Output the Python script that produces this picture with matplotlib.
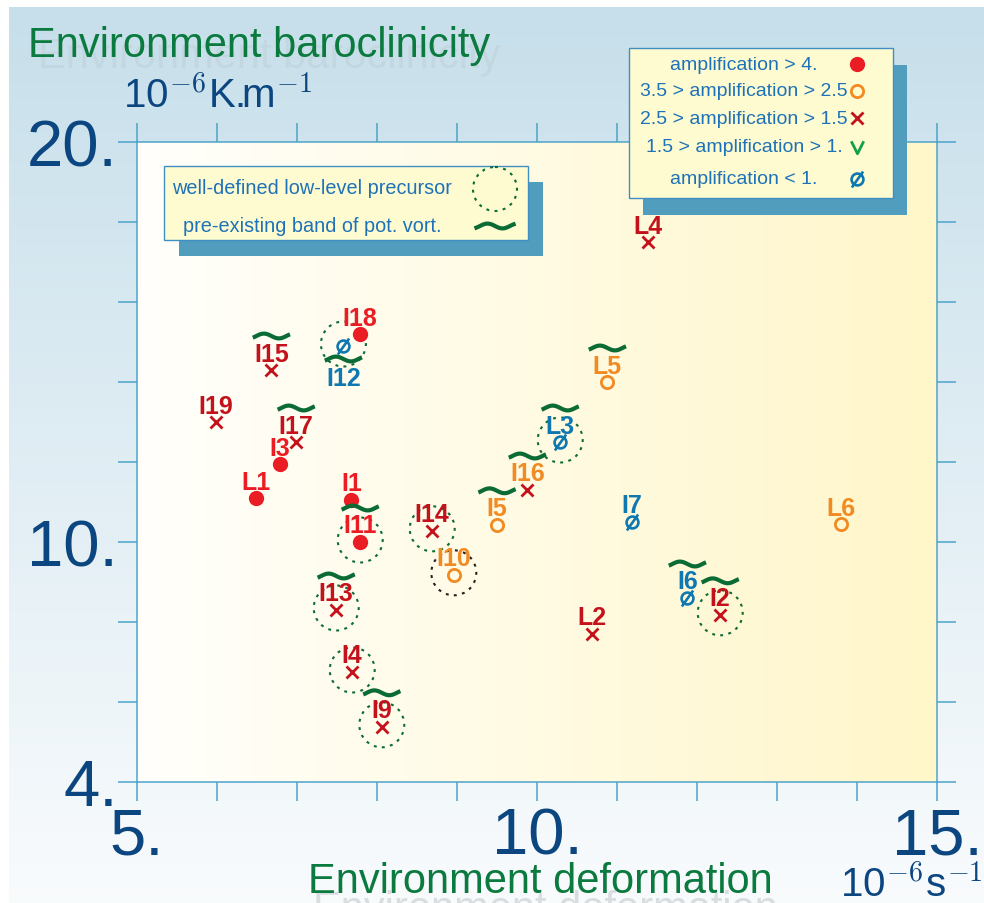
import numpy as np
import matplotlib
matplotlib.use('Agg')
import matplotlib.pyplot as plt
from matplotlib import transforms as mtrans
from matplotlib.path import Path
from matplotlib.patches import Circle, Rectangle

plt.rcParams['font.family'] = ['Liberation Sans', 'DejaVu Sans']
plt.rcParams['mathtext.fontset'] = 'cm'

# ---------------- data ----------------
names = ['L4', 'I18', 'I12', 'I15', 'I19', 'I17', 'I3', 'L1', 'I1', 'I11', 'I14', 'I10',
         'I5', 'I16', 'L3', 'L5', 'I7', 'L6', 'I6', 'I2', 'L2', 'I13', 'I4', 'I9']
deformation = [11.39, 7.79, 7.58, 6.68, 5.99, 6.99, 6.79, 6.49, 7.68, 7.79, 8.69, 8.96,
               9.50, 9.88, 10.29, 10.88, 11.19, 13.80, 11.88, 12.29, 10.69, 7.49, 7.69, 8.06]
baroclinicity = [17.5, 15.2, 14.9, 14.3, 13.0, 12.5, 11.95, 11.1, 11.05, 10.0, 10.28, 9.18,
                 10.43, 11.3, 12.5, 14.0, 10.5, 10.45, 8.6, 8.18, 7.7, 8.3, 6.75, 5.38]
# 0: >4, 1: 3.5-2.5, 2: 2.5-1.5, 3: 1.5-1, 4: <1
amp_class = [2, 0, 4, 2, 2, 2, 0, 0, 0, 0, 2, 1,
             1, 2, 4, 1, 4, 1, 4, 2, 2, 2, 2, 2]
label_class = [2, 0, 4, 2, 2, 2, 0, 0, 0, 0, 2, 1,
               1, 1, 4, 1, 4, 1, 4, 2, 2, 2, 2, 2]
# 0: none, 1: well-defined low-level precursor (green), 2: (black)
precursor = [0, 0, 1, 0, 0, 0, 0, 0, 0, 1, 1, 2,
             0, 0, 1, 0, 0, 0, 0, 1, 0, 1, 1, 1]
pv_band = [0, 0, 1, 1, 0, 1, 0, 0, 0, 1, 0, 0,
           1, 1, 1, 1, 0, 0, 1, 1, 0, 1, 0, 1]
label_below = [0, 0, 1, 0, 0, 0, 0, 0, 0, 0, 0, 0,
               0, 0, 0, 0, 0, 0, 0, 0, 0, 0, 0, 0]

class_labels = ['amplification > 4.', '3.5 > amplification > 2.5',
                '2.5 > amplification > 1.5', '1.5 > amplification > 1.',
                'amplification < 1.']
feature_labels = ['well-defined low-level precursor', 'pre-existing band of pot. vort.']

x_ticks = [5, 10, 15]
x_ticklabels = ['5.', '10.', '15.']
y_ticks = [4, 10, 20]
y_ticklabels = ['4.', '10.', '20.']

# ---------------- style ----------------
W, H = 984, 904
PX = 72.0 / 100.0
RED = '#ea1c24'
DRED = '#c4121c'
ORANGE = '#f28a22'
BLUE = '#0f78b0'
GREENV = '#12a04a'
TICKC = '#0b4680'
TITLEG = '#0b7a3e'
LEGTXT = '#1d72b8'
SHADOW = '#519dbd'
LEGFC = '#fffbd0'
LEGEC = '#3f8fc4'
TILDE = '#0b6b35'
SPINE = '#4aa3c8'

slash_o = Path.make_compound_path(Path.unit_circle(),
                                  Path([(-0.95, -1.35), (0.95, 1.35)]))
vee = Path([(-1, 1), (0, -1), (1, 1)], [Path.MOVETO, Path.LINETO, Path.LINETO])
styles = [
    dict(marker='o', ms=11, mfc=RED, mec=RED, mew=0),
    dict(marker='o', ms=8.8, mfc='none', mec=ORANGE, mew=2.0),
    dict(marker='x', ms=8.5, mfc='none', mec=DRED, mew=2.0),
    dict(marker=vee, ms=9, mfc='none', mec=GREENV, mew=2.0),
    dict(marker=slash_o, ms=11.5, mfc='none', mec=BLUE, mew=1.9),
]
label_colors = [RED, ORANGE, DRED, GREENV, BLUE]

t = np.linspace(-0.12, 1.12, 60)
tilde_x = (t - 0.5) * 30
tilde_y = 2.4 * np.sin(2 * np.pi * t)
TILDE_LW = 3.0

fig = plt.figure(figsize=(W / 100, H / 100), dpi=100)
fig.patch.set_facecolor('white')

# figure background gradient
bg = fig.add_axes([9 / W, 0, 1 - 9 / W, 1 - 8 / H], zorder=0)
g = np.linspace(0, 1, 256)[:, None, None]
top = np.array([0.78, 0.875, 0.92])
bot = np.array([0.975, 0.985, 0.992])
bg.imshow(top * (1 - g) + bot * g, aspect='auto', extent=[0, 1, 0, 1], origin='upper')
bg.axis('off')

# main axes
ax = fig.add_axes([137 / W, 1 - 783 / H, 800 / W, 640 / H], zorder=1)
hg = np.linspace(0, 1, 256)[None, :, None]
left = np.array([1.0, 1.0, 0.985])
right = np.array([1.0, 0.965, 0.79])
ax.imshow(left * (1 - hg) + right * hg, aspect='auto', extent=[5, 15, 4, 20], zorder=0)
ax.set_xlim(5, 15)
ax.set_ylim(4, 20)
ax.set_autoscale_on(False)

ax.set_xticks(x_ticks)
ax.set_xticklabels(x_ticklabels)
ax.set_xticks(np.arange(5, 16, 1), minor=True)
ax.set_yticks(y_ticks)
ax.set_yticklabels(y_ticklabels)
ax.set_yticks(np.arange(4, 21, 2), minor=True)
ax.tick_params(which='both', direction='out', length=19 * PX, width=1.5 * PX,
               color=SPINE, top=True, right=True)
ax.tick_params(which='major', labelsize=47, labelcolor=TICKC)
ax.tick_params(axis='y', which='major', pad=0)
ax.tick_params(axis='x', which='major', pad=4)
for s in ax.spines.values():
    s.set_color(SPINE)
    s.set_linewidth(1.5 * PX)


def anchor(x, y, dx=0.0, dy=0.0):
    return mtrans.Affine2D().translate(dx, dy) + mtrans.ScaledTranslation(x, y, ax.transData)


# markers
for c in range(5):
    xs = [deformation[i] for i in range(len(names)) if amp_class[i] == c]
    ys = [baroclinicity[i] for i in range(len(names)) if amp_class[i] == c]
    if xs:
        ax.plot(xs, ys, ls='none', zorder=5, clip_on=False, **styles[c])

for i, n in enumerate(names):
    x, y = deformation[i], baroclinicity[i]
    below = label_below[i] == 1
    ax.annotate(n, (x, y), xytext=(0, (-39 if below else 9.5) * PX),
                textcoords='offset points', ha='center', va='baseline',
                fontsize=18, fontweight='bold', color=label_colors[label_class[i]],
                zorder=6)
    if pv_band[i]:
        ax.plot(tilde_x, tilde_y, transform=anchor(x, y, 0, -13 if below else 34),
                color=TILDE, lw=TILDE_LW, solid_capstyle='butt',
                zorder=7, clip_on=False)
    if precursor[i]:
        col = TILDE if precursor[i] == 1 else '#222222'
        circ = Circle((0, 2), 22.5, transform=anchor(x, y), fill=False, ec=col,
                      lw=1.5, ls=(0, (1.4, 2.6)), zorder=4, clip_on=False)
        ax.add_patch(circ)

# overlay for legends and titles
ov = fig.add_axes([0, 0, 1, 1], zorder=3)
ov.set_xlim(0, W)
ov.set_ylim(H, 0)
ov.axis('off')
ov.patch.set_visible(False)

# legend 1
ov.add_patch(Rectangle((643, 66), 264, 150, fc=SHADOW, ec='none'))
ov.add_patch(Rectangle((629, 49), 264, 150, fc=LEGFC, ec=LEGEC, lw=1.0))
rows = [65, 92, 119, 148, 180]
for c in range(5):
    ov.text(744, rows[c], class_labels[c], ha='center', va='center',
            fontsize=14, color=LEGTXT)
    ov.plot([857], [rows[c]], ls='none', **styles[c])

# legend 2
ov.add_patch(Rectangle((179, 183), 364, 74, fc=SHADOW, ec='none'))
ov.add_patch(Rectangle((164, 167), 364, 74, fc=LEGFC, ec=LEGEC, lw=1.0))
ov.text(312, 189, feature_labels[0], ha='center', va='center', fontsize=14.3, color=LEGTXT)
ov.text(312, 227, feature_labels[1], ha='center', va='center', fontsize=14.3, color=LEGTXT)
ov.add_patch(Circle((495, 190), 22, fill=False, ec=TILDE, lw=1.5, ls=(0, (1.4, 2.6))))
ov.plot(495 + tilde_x, 227 - tilde_y, color=TILDE, lw=TILDE_LW)

# titles
ov.text(38, 68, 'Environment baroclinicity', fontsize=30, color='#b8c8d0',
        alpha=0.35, va='baseline')
ov.text(28, 57, 'Environment baroclinicity', fontsize=30, color=TITLEG, va='baseline')
ov.text(123, 108, r'$\mathregular{10}^{-6}\mathregular{K.}\!\!\mathregular{m}^{-1}$',
        fontsize=29, color=TICKC, va='baseline')
ov.text(313, 921, 'Environment deformation', fontsize=30, color='#a8b0b8',
        alpha=0.4, va='baseline')
ov.text(308, 893, 'Environment deformation', fontsize=30, color=TITLEG, va='baseline')
ov.text(840, 897, r'$\mathregular{10}^{-6}\mathregular{s}^{-1}$', fontsize=29,
        color=TICKC, va='baseline')

fig.savefig('out.png', dpi=100)
